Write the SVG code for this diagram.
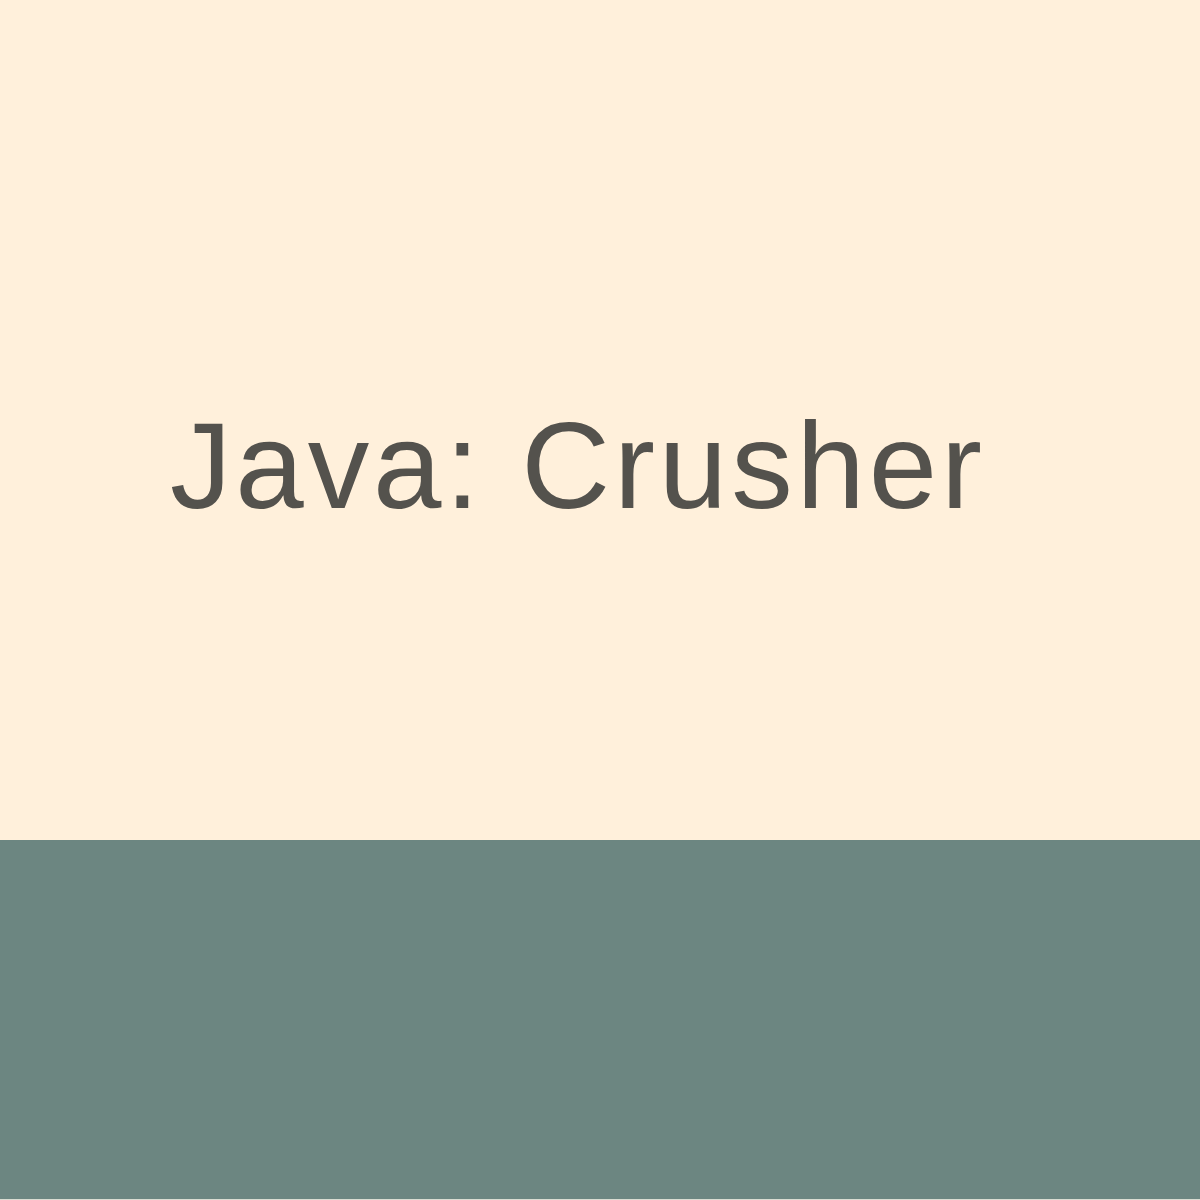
<svg xmlns="http://www.w3.org/2000/svg" width="1200" height="1200" viewBox="0 0 1200 1200">
<style>
.title{font-family:"Liberation Sans","Noto Sans",Arial,sans-serif;font-size:123px;fill:#54524D;}
</style>
<rect x="0" y="0" width="1200" height="1200" fill="#FFF0DB"/>
<rect x="0" y="840" width="1200" height="359" fill="#6C8681"/>
<rect x="0" y="1199" width="1200" height="1" fill="#D9DDD2"/>
<g id="title">
<text class="title" x="170" y="508" textLength="812" lengthAdjust="spacing">Java: Crusher</text>
</g>
</svg>
